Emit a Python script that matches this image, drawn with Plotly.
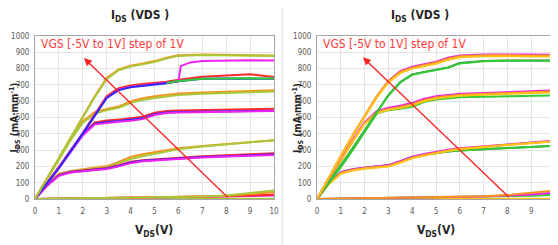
import plotly.graph_objects as go

# ---------------- data ----------------
VDS = [0, 0.5, 1, 1.5, 2, 2.5, 3, 3.5, 4, 4.5, 5, 5.5, 6, 7, 8, 9, 10]
VDS_JUMP = [0, 0.5, 1, 1.5, 2, 2.5, 3, 3.5, 4, 4.5, 5, 5.5, 6, 6.1, 6.5, 7, 8, 9, 10]
VDS_TAIL = [5.5, 6, 7, 8, 9, 10]

# left panel
L_orange_1 = [0, 128, 255, 380, 505, 630, 742, 795, 818, 832, 846, 866, 882, 887, 886, 884, 881]
L_olive_1 = [0, 125, 250, 375, 500, 625, 735, 790, 812, 826, 840, 862, 878, 884, 883, 881, 878]
L_red_0 = [0, 95, 195, 300, 405, 520, 630, 680, 697, 705, 712, 720, 732, 750, 757, 765, 748]
L_blue_0 = [0, 92, 190, 295, 400, 510, 620, 668, 685, 693, 700, 710, 722, 737, 740, 740, 738]
L_green_0 = [712, 724, 738, 741, 741, 739]
L_mag_0 = [0, 93, 192, 297, 400, 512, 622, 670, 688, 697, 705, 712, 722, 815, 838, 846, 850, 851, 850]
L_orange_m1 = [0, 125, 250, 370, 478, 532, 552, 568, 598, 618, 630, 640, 647, 653, 658, 663, 667]
L_olive_m1 = [0, 122, 245, 362, 468, 522, 545, 560, 588, 608, 620, 630, 638, 645, 651, 656, 660]
L_red_m2 = [0, 95, 195, 300, 400, 470, 482, 487, 495, 505, 530, 540, 543, 546, 549, 551, 553]
L_blue_m2 = [0, 93, 192, 297, 395, 462, 473, 478, 485, 495, 520, 530, 534, 537, 539, 540, 541]
L_mag_m2 = [0, 91, 190, 294, 390, 458, 468, 474, 480, 490, 515, 527, 531, 534, 536, 538, 540]
L_orange_m3 = [0, 90, 155, 172, 182, 192, 202, 228, 258, 275, 288, 300, 312, 325, 336, 348, 360]
L_olive_m3 = [0, 88, 150, 168, 178, 187, 197, 220, 245, 262, 275, 292, 305, 322, 335, 347, 360]
L_red_m3 = [0, 85, 148, 167, 175, 182, 190, 207, 228, 238, 243, 248, 253, 262, 268, 275, 281]
L_blue_m3 = [0, 83, 145, 165, 172, 180, 187, 203, 224, 234, 239, 245, 249, 257, 263, 269, 274]
L_mag_m3 = [0, 80, 142, 162, 170, 177, 184, 200, 220, 231, 236, 242, 246, 254, 260, 266, 270]
L_olive_m4 = [0, 1, 2, 3, 3, 4, 5, 6, 7, 8, 9, 11, 13, 16, 22, 35, 52]
L_orange_m4 = [0, 1, 2, 2, 3, 4, 5, 6, 7, 8, 9, 10, 12, 15, 20, 30, 42]
L_red_m4 = [0, 1, 1, 2, 3, 4, 5, 6, 6, 7, 8, 9, 11, 14, 17, 21, 26]
L_mag_m4 = [0, 1, 1, 2, 2, 3, 4, 5, 6, 6, 7, 8, 10, 12, 15, 18, 22]
L_zero = [0, 0, 0, 0, 0, 0, 0, 0, 0, 0, 0, 0, 0, 0, 1, 1, 1]

# right panel
R_yellow_1 = [0, 133, 262, 388, 507, 620, 715, 772, 800, 816, 830, 853, 870, 876, 877, 875, 874]
R_orange_1 = [0, 135, 265, 392, 512, 628, 722, 780, 806, 822, 837, 860, 876, 882, 883, 881, 880]
R_mag_1 = [0, 130, 258, 385, 505, 625, 725, 785, 812, 828, 842, 866, 880, 887, 888, 886, 885]
R_dark_0 = [0, 102, 207, 312, 422, 532, 637, 717, 764, 780, 792, 807, 834, 846, 849, 849, 849]
R_green_0 = [0, 100, 205, 310, 420, 530, 635, 715, 762, 778, 790, 805, 832, 845, 848, 848, 848]
R_yellow_m1 = [0, 120, 236, 352, 460, 526, 547, 558, 575, 600, 616, 626, 633, 640, 645, 650, 655]
R_orange_m1 = [0, 122, 240, 356, 466, 532, 553, 565, 582, 607, 622, 632, 639, 645, 650, 655, 660]
R_mag_m1 = [0, 120, 238, 358, 470, 538, 560, 572, 590, 615, 630, 640, 646, 651, 656, 661, 666]
R_green_m1 = [0, 96, 195, 300, 415, 522, 545, 553, 566, 595, 610, 618, 624, 628, 631, 633, 635]
R_yellow_m3 = [0, 92, 155, 175, 185, 193, 200, 222, 250, 266, 281, 294, 305, 320, 331, 342, 354]
R_orange_m3 = [0, 94, 158, 178, 188, 196, 203, 226, 254, 270, 285, 297, 308, 322, 333, 344, 356]
R_mag_m3 = [0, 97, 163, 182, 192, 200, 208, 232, 260, 276, 290, 302, 312, 325, 335, 346, 358]
R_dark_m3 = [0, 99, 165, 183, 192, 199, 207, 231, 258, 272, 284, 292, 298, 305, 312, 319, 327]
R_green_m3 = [0, 98, 162, 180, 190, 198, 206, 230, 258, 272, 284, 292, 298, 305, 312, 319, 327]
R_orange_m4 = [0, 1, 2, 3, 3, 4, 5, 6, 7, 8, 9, 11, 13, 17, 24, 36, 52]
R_mag_m4 = [0, 1, 2, 3, 4, 5, 6, 7, 8, 9, 10, 11, 13, 16, 21, 28, 40]
R_green_m4 = [0, 1, 1, 2, 2, 3, 4, 5, 6, 7, 8, 9, 10, 13, 16, 20, 25]
R_zero = [0, 0, 0, 0, 0, 0, 0, 0, 0, 0, 0, 0, 0, 0, 1, 1, 1]

X_TICKS = [0, 1, 2, 3, 4, 5, 6, 7, 8, 9, 10]
Y_TICKS = [0, 100, 200, 300, 400, 500, 600, 700, 800, 900, 1000]
ARROW_L = dict(tail=(8.13, 0), head=(2.05, 865))
ARROW_R = dict(tail=(8.12, 4), head=(1.93, 869))
LEGEND_TEXT = "VGS [-5V to 1V] step of 1V"

# ---------------- colours ----------------
C = dict(orange="#f7931e", olive="#a8c83a", red="#ff2a2a", blue="#2a2aff",
         green="#33cc33", mag="#f020f0", yellow="#ffc21a", dark="#4f6f6f")

fig = go.Figure()


def add(x, y, col, ax):
    fig.add_trace(go.Scatter(x=x, y=y, mode="lines", line=dict(color=C[col], width=2),
                             xaxis="x" if ax == 1 else "x2", yaxis="y" if ax == 1 else "y2",
                             showlegend=False, hoverinfo="skip"))


left = [
    (VDS, L_zero, "olive"),
    (VDS, L_mag_m4, "mag"), (VDS, L_red_m4, "red"), (VDS, L_orange_m4, "orange"), (VDS, L_olive_m4, "olive"),
    (VDS, L_orange_m3, "orange"), (VDS, L_olive_m3, "olive"),
    (VDS, L_red_m3, "red"), (VDS, L_blue_m3, "blue"), (VDS, L_mag_m3, "mag"),
    (VDS, L_red_m2, "red"), (VDS, L_blue_m2, "blue"), (VDS, L_mag_m2, "mag"),
    (VDS, L_orange_m1, "orange"), (VDS, L_olive_m1, "olive"),
    (VDS, L_red_0, "red"), (VDS_JUMP, L_mag_0, "mag"), (VDS, L_blue_0, "blue"), (VDS_TAIL, L_green_0, "green"),
    (VDS, L_orange_1, "orange"), (VDS, L_olive_1, "olive"),
]
for x, y, c in left:
    add(x, y, c, 1)

right = [
    (VDS, R_zero, "yellow"),
    (VDS, R_green_m4, "green"), (VDS, R_mag_m4, "mag"), (VDS, R_orange_m4, "orange"),
    (VDS, R_dark_m3, "dark"), (VDS, R_green_m3, "green"),
    (VDS, R_mag_m3, "mag"), (VDS, R_orange_m3, "orange"), (VDS, R_yellow_m3, "yellow"),
    (VDS, R_green_m1, "green"),
    (VDS, R_mag_m1, "mag"), (VDS, R_orange_m1, "orange"), (VDS, R_yellow_m1, "yellow"),
    (VDS, R_dark_0, "dark"), (VDS, R_green_0, "green"),
    (VDS, R_mag_1, "mag"), (VDS, R_orange_1, "orange"), (VDS, R_yellow_1, "yellow"),
]
for x, y, c in right:
    add(x, y, c, 2)

tickfont = dict(family="Liberation Sans Narrow, DejaVu Sans Condensed, sans-serif", size=8, color="#595959")
xa = dict(range=[0, 10], tickvals=X_TICKS, showgrid=True, gridcolor="#e4e4e4", gridwidth=1,
          showline=True, linecolor="#a6a6a6", linewidth=1, mirror=True, zeroline=False,
          tickfont=tickfont, ticks="", fixedrange=True, automargin=False, ticklabelstandoff=4)
ya = dict(range=[0, 1000], tickvals=Y_TICKS, showgrid=True, gridcolor="#e4e4e4", gridwidth=1,
          showline=True, linecolor="#a6a6a6", linewidth=1, mirror=True, zeroline=False,
          tickfont=tickfont, ticks="", fixedrange=True, automargin=False, ticklabelstandoff=3)

# the page places the figure 8 px in from the top-left corner, so the figure
# covers the remaining 550x237 px and reference pixel positions are shifted by 8
OFF = 8
W, H = 558 - OFF, 245 - OFF


def px(xr):
    return (xr - OFF) / W


def py(yr):
    return (H - (yr - OFF)) / H


fig.update_layout(
    width=W, height=H, margin=dict(l=0, r=0, t=0, b=0, autoexpand=False),
    paper_bgcolor="white", plot_bgcolor="white",
    xaxis=dict(xa, domain=[px(35), px(274)], anchor="y"),
    yaxis=dict(ya, domain=[py(199), py(36)], anchor="x"),
    xaxis2=dict(xa, domain=[px(317), px(555)], anchor="y2"),
    yaxis2=dict(ya, domain=[py(199), py(36)], anchor="x2"),
)

bold = "DejaVu Sans Condensed, Liberation Sans Narrow, sans-serif"
anns = []
for cx, xref, yref, arr, axcx, ytx in [(140, "x", "y", ARROW_L, 154, 14.5), (420, "x2", "y2", ARROW_R, 436, 298)]:
    anns.append(dict(x=px(cx), y=py(16), xref="paper", yref="paper", showarrow=False,
                     xanchor="center", yanchor="middle",
                     text="<b>I<sub>DS</sub> (VDS )</b>", font=dict(family=bold, size=12, color="#262626")))
    anns.append(dict(x=px(axcx), y=py(231), xref="paper", yref="paper", showarrow=False,
                     xanchor="center", yanchor="middle",
                     text="<b>V<sub>DS</sub>(V)</b>", font=dict(family=bold, size=12, color="#262626")))
    anns.append(dict(x=px(ytx), y=py(118), xref="paper", yref="paper",
                     showarrow=False, textangle=-90, xanchor="center", yanchor="middle",
                     text="<b>I<sub>DS</sub> (mA·mm<sup>-1</sup>)</b>",
                     font=dict(family=bold, size=10, color="#262626")))
    anns.append(dict(x=0.15, y=948, xref=xref, yref=yref, xanchor="left", yanchor="middle", showarrow=False,
                     text=LEGEND_TEXT, font=dict(family="DejaVu Sans Condensed, sans-serif", size=12, color="#ff3b3b")))
    anns.append(dict(x=arr["head"][0], y=arr["head"][1], ax=arr["tail"][0], ay=arr["tail"][1],
                     xref=xref, yref=yref, axref=xref, ayref=yref, showarrow=True,
                     arrowhead=2, arrowsize=1.2, arrowwidth=1.3, arrowcolor="#ff2020", text=""))
fig.update_layout(annotations=anns)

fig.add_shape(type="line", xref="paper", yref="paper", x0=px(282), x1=px(282), y0=0, y1=1,
              line=dict(color="#d9d9d9", width=1))

fig.write_html("out.html")
